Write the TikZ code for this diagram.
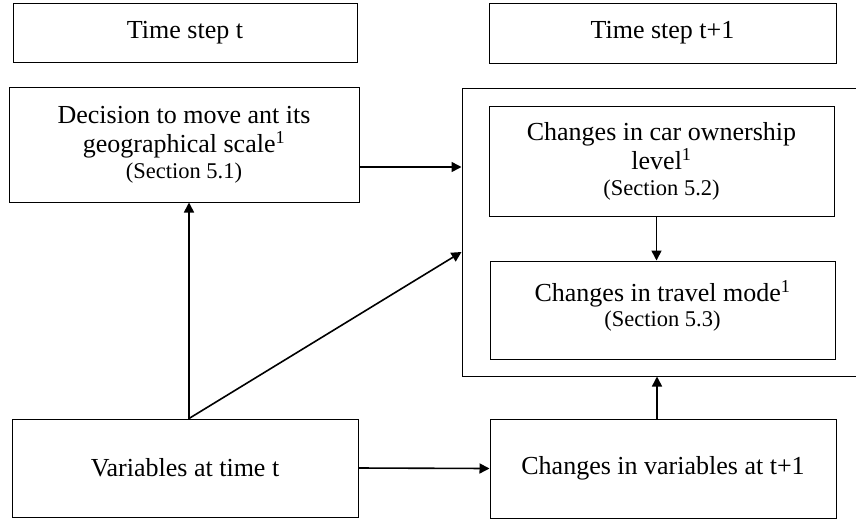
\documentclass[tikz,border=0pt]{standalone}
\usepackage{fontspec}
\setmainfont{Liberation Serif}
\usepackage{tikz}
\usetikzlibrary{arrows.meta, positioning, calc}

\newcommand{\mainsize}{\fontsize{26}{29}\selectfont}
\newcommand{\secsize}{\fontsize{22.5}{24}\selectfont}

\begin{document}
\begin{tikzpicture}[
    x=1pt, y=-1pt,
    stepbox/.style={draw, rectangle, line width=1pt, align=center, inner sep=0pt, font=\mainsize},
    arrow/.style={-{Triangle[length=10pt, width=10pt]}, line width=1.6pt}
]
\useasboundingbox (0,0) rectangle (856,520);

\node (tstep) [stepbox, minimum width=344pt, minimum height=59pt] at (185,32.5) {Time step t};
\node (tstep1) [stepbox, minimum width=347pt, minimum height=60pt] at (662.5,33) {Time step t+1};

\node (decide) [stepbox, minimum width=350pt, minimum height=115pt] at (184,144.5) {Decision to move ant its\\geographical scale\textsuperscript{1}\\[-3pt]{\secsize (Section 5.1)}};

\node (group) [stepbox, minimum width=418pt, minimum height=288pt] at (671,232) {};
\node (car) [stepbox, minimum width=345pt, minimum height=110pt] at (661.5,161) {Changes in car ownership\\level\textsuperscript{1}\\[-3pt]{\secsize (Section 5.2)}};
\node (travel) [stepbox, minimum width=345pt, minimum height=98pt, text depth=14pt] at (662.5,310) {Changes in travel mode\textsuperscript{1}\\[-4pt]{\secsize (Section 5.3)}};

\node (vars) [stepbox, minimum width=346pt, minimum height=98pt] at (185,468) {Variables at time t};
\node (chvars) [stepbox, minimum width=346pt, minimum height=99pt] at (663,468.5) {Changes in variables at t+1};

% links
\draw[arrow] ([yshift=-22.5pt]decide.east) -- ([yshift=-22.5pt]decide.east -| group.west);
\draw[arrow] ([xshift=4pt]vars.north) -- ([xshift=4pt]vars.north |- decide.south);
\draw[arrow] ([xshift=4pt]vars.north) -- ([yshift=-20pt]group.west);
\draw[arrow] (vars.east) -- (chvars.west);
\draw[arrow] ([xshift=-6pt]chvars.north) -- ([xshift=-6pt]chvars.north |- group.south);
\draw[arrow] ([xshift=-5pt]car.south) -- ([xshift=-5pt]car.south |- travel.north);

\end{tikzpicture}
\end{document}
